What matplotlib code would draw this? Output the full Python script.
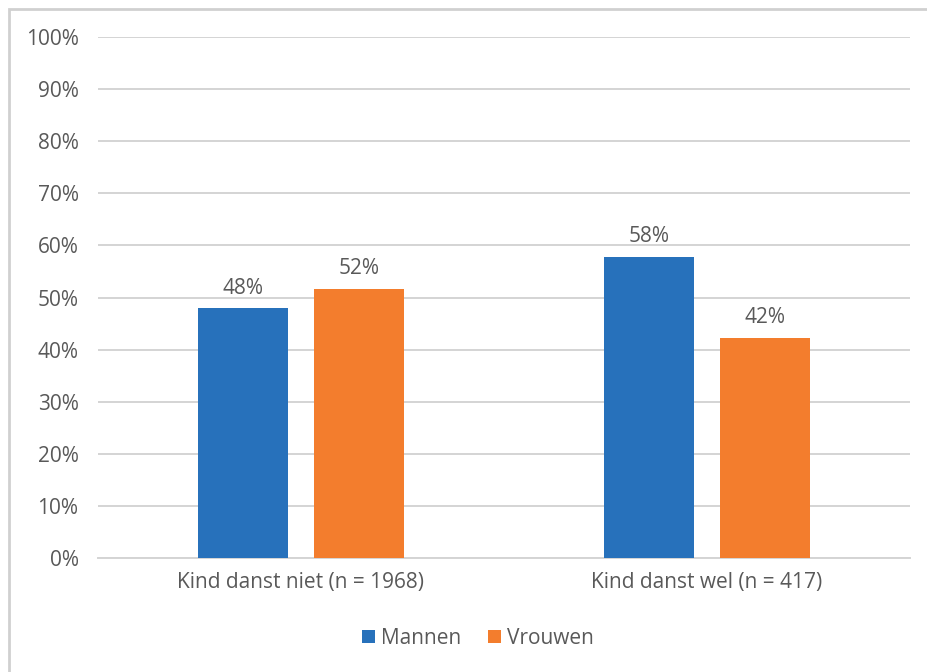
import numpy as np
import matplotlib
matplotlib.use("Agg")
import matplotlib.pyplot as plt
from matplotlib.patches import Rectangle

categories = ["Kind danst niet (n = 1968)", "Kind danst wel (n = 417)"]
mannen = [47.9, 57.8]
vrouwen = [51.6, 42.3]
labels_m = ["48%", "58%"]
labels_v = ["52%", "42%"]
yticks = [0, 10, 20, 30, 40, 50, 60, 70, 80, 90, 100]

blue = "#2771BB"
orange = "#F37D2D"
txt = "#595959"
fs = 15

plt.rcParams['font.family'] = ['Open Sans', 'DejaVu Sans']

fig = plt.figure(figsize=(9.28, 6.72), dpi=100)
ax = fig.add_axes([98 / 928, 114 / 672, 812 / 928, 521 / 672])

# light gray frame around the chart, like the Excel export
fig.patches.append(Rectangle((9 / 928, -0.01), 1.0, 1 - 9 / 672 + 0.01,
                             transform=fig.transFigure, fill=False,
                             edgecolor="#D0D0D0", linewidth=2))

x = np.arange(len(categories))
w = 0.222
off = 0.142
b1 = ax.bar(x - off, mannen, w, color=blue, label="Mannen", zorder=3)
b2 = ax.bar(x + off, vrouwen, w, color=orange, label="Vrouwen", zorder=3)

for bars, labs in ((b1, labels_m), (b2, labels_v)):
    for b, l in zip(bars, labs):
        ax.annotate(l, (b.get_x() + b.get_width() / 2, b.get_height()),
                    xytext=(0, 7), textcoords="offset points",
                    ha="center", va="bottom", fontsize=fs, color=txt)

ax.set_xlim(-0.5, 1.5)
ax.set_ylim(0, 100)
ax.set_yticks(yticks)
ax.set_yticklabels([f"{t}%" for t in yticks])
ax.set_xticks(x)
ax.set_xticklabels(categories)
ax.tick_params(axis="both", length=0, labelsize=fs, colors=txt)
ax.tick_params(axis="y", pad=14)
ax.tick_params(axis="x", pad=10)
ax.grid(axis="y", color="#D4D4D4", linewidth=1.4, zorder=0)
for s in ["top", "right", "left"]:
    ax.spines[s].set_visible(False)
ax.spines["bottom"].set_color("#D4D4D4")
ax.spines["bottom"].set_linewidth(1.4)

leg = fig.legend(handles=[b1, b2], loc="center", bbox_to_anchor=(478 / 928, 1 - 638 / 672),
                 ncol=2, frameon=False, fontsize=fs, handlelength=0.6, handleheight=0.6,
                 handletextpad=0.3, columnspacing=1.3)
for t in leg.get_texts():
    t.set_color(txt)

fig.savefig("out.png", dpi=100)
